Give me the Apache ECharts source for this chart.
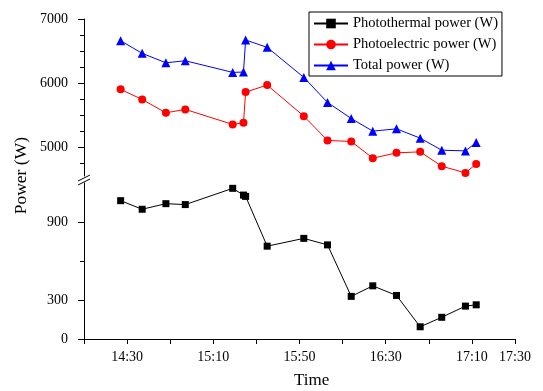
<!DOCTYPE html>
<html>
<head>
<meta charset="utf-8">
<script src="https://cdn.jsdelivr.net/npm/echarts@6/dist/echarts.min.js"></script>
<style>
  html, body { margin: 0; padding: 0; background: #fff; }
  #chart { width: 543px; height: 391px; }
</style>
</head>
<body>
<div id="chart"></div>
<script>
// measurement times (hh:mm)
const times = ['14:27', '14:37', '14:48', '14:57', '15:19', '15:24', '15:25', '15:35', '15:52',
  '16:03', '16:14', '16:24', '16:35', '16:46', '16:56', '17:07', '17:12'];
// power values in W
const thermal = [1064, 998, 1041, 1034, 1159, 1107, 1097, 714, 774, 724, 328, 409, 335, 94, 167, 253, 263];
const electric = [5902, 5745, 5536, 5589, 5355, 5380, 5859, 5969, 5484, 5105, 5089, 4828, 4911, 4927, 4703, 4598, 4739];
const total = [6661, 6464, 6317, 6348, 6167, 6172, 6672, 6558, 6089, 5698, 5448, 5250, 5286, 5141, 4953, 4942, 5073];

// axis ticks / labels
const xTickLabels = ['14:30', '15:10', '15:50', '16:30', '17:10', '17:30'];
const upperLabels = [5000, 6000, 7000];
const upperMinor = [4750, 5250, 5500, 5750, 6250, 6500, 6750];
const lowerLabels = [0, 300, 900];
const lowerMinor = [600];

const START = 14 * 60 + 10; // x axis starts at 14:10
const toMin = (t) => {
  const [h, m] = t.split(':').map(Number);
  return h * 60 + m - START;
};
const toTime = (v) => {
  const m = v + START;
  return Math.floor(m / 60) + ':' + String(m % 60).padStart(2, '0');
};
const pts = (vals) => vals.map((v, i) => [toMin(times[i]), v]);

const FONT = '"Liberation Serif", "Times New Roman", serif';
const black = '#000';

const chart = echarts.init(document.getElementById('chart'));

const option = {
  animation: false,
  textStyle: { fontFamily: FONT },
  grid: [
    { left: 84, width: 431, top: 19, height: 157 },
    { left: 84, width: 431, top: 183, height: 156 }
  ],
  legend: {
    orient: 'vertical',
    left: 309,
    top: 12,
    itemWidth: 34,
    itemHeight: 12,
    itemGap: 6,
    padding: [4, 4, 3, 4],
    borderColor: black,
    borderWidth: 1,
    borderRadius: 0,
    textStyle: { fontFamily: FONT, fontSize: 14.5, color: black },
    data: ['Photothermal power (W)', 'Photoelectric power (W)', 'Total power (W)']
  },
  xAxis: [
    {
      gridIndex: 0, type: 'value', min: 0, max: 200, interval: 20,
      axisLine: { show: false }, axisTick: { show: false },
      axisLabel: { show: false }, splitLine: { show: false }
    },
    {
      gridIndex: 1, type: 'value', min: 0, max: 200, interval: 20,
      axisLine: { show: true, onZero: false, lineStyle: { color: black, width: 1 } },
      axisTick: { show: true, length: 5, lineStyle: { color: black } },
      axisLabel: {
        customValues: xTickLabels.map(toMin),
        formatter: (v) => toTime(v),
        color: black, fontSize: 14, margin: 11, fontFamily: FONT
      },
      splitLine: { show: false }
    }
  ],
  yAxis: [
    {
      gridIndex: 0, type: 'value', min: 4550, max: 7000, position: 'left',
      axisLine: { show: true, onZero: false, lineStyle: { color: black, width: 1 } },
      axisTick: { show: true, length: 6, customValues: upperLabels, lineStyle: { color: black } },
      axisLabel: {
        customValues: upperLabels, formatter: (v) => String(v),
        color: black, fontSize: 14, margin: 16, fontFamily: FONT
      },
      splitLine: { show: false }
    },
    {
      gridIndex: 0, type: 'value', min: 4550, max: 7000, position: 'left',
      axisLine: { show: false },
      axisTick: { show: true, length: 4, customValues: upperMinor, lineStyle: { color: black } },
      axisLabel: { show: false },
      splitLine: { show: false }
    },
    {
      gridIndex: 1, type: 'value', min: 0, max: 1200, position: 'left',
      axisLine: { show: true, onZero: false, lineStyle: { color: black, width: 1 } },
      axisTick: { show: true, length: 6, customValues: lowerLabels, lineStyle: { color: black } },
      axisLabel: {
        customValues: lowerLabels, formatter: (v) => String(v),
        color: black, fontSize: 14, margin: 16, fontFamily: FONT
      },
      splitLine: { show: false }
    },
    {
      gridIndex: 1, type: 'value', min: 0, max: 1200, position: 'left',
      axisLine: { show: false },
      axisTick: { show: true, length: 4, customValues: lowerMinor, lineStyle: { color: black } },
      axisLabel: { show: false },
      splitLine: { show: false }
    }
  ],
  series: [
    {
      name: 'Photothermal power (W)', type: 'line',
      xAxisIndex: 1, yAxisIndex: 2,
      symbol: 'rect', symbolSize: 7,
      lineStyle: { color: black, width: 1 },
      itemStyle: { color: black },
      data: pts(thermal)
    },
    {
      name: 'Photoelectric power (W)', type: 'line',
      xAxisIndex: 0, yAxisIndex: 0,
      symbol: 'circle', symbolSize: 8,
      lineStyle: { color: '#ff0000', width: 1 },
      itemStyle: { color: '#ff0000' },
      data: pts(electric)
    },
    {
      name: 'Total power (W)', type: 'line',
      xAxisIndex: 0, yAxisIndex: 0,
      symbol: 'triangle', symbolSize: 9,
      lineStyle: { color: '#0000ff', width: 1 },
      itemStyle: { color: '#0000ff' },
      data: pts(total)
    }
  ],
  graphic: [
    // axis break marks
    { type: 'line', shape: { x1: 78, y1: 181, x2: 90, y2: 175 }, style: { stroke: black, lineWidth: 1 } },
    { type: 'line', shape: { x1: 78, y1: 185, x2: 90, y2: 179 }, style: { stroke: black, lineWidth: 1 } },
    {
      type: 'text', left: 12, top: 137, rotation: Math.PI / 2,
      style: { text: 'Power (W)', font: '17.5px ' + FONT, fill: black }
    },
    {
      type: 'text', left: 294, top: 372,
      style: { text: 'Time', font: '17px ' + FONT, fill: black }
    }
  ]
};

chart.setOption(option);
window.addEventListener('resize', () => {
  chart.resize();
});
</script>
</body>
</html>
